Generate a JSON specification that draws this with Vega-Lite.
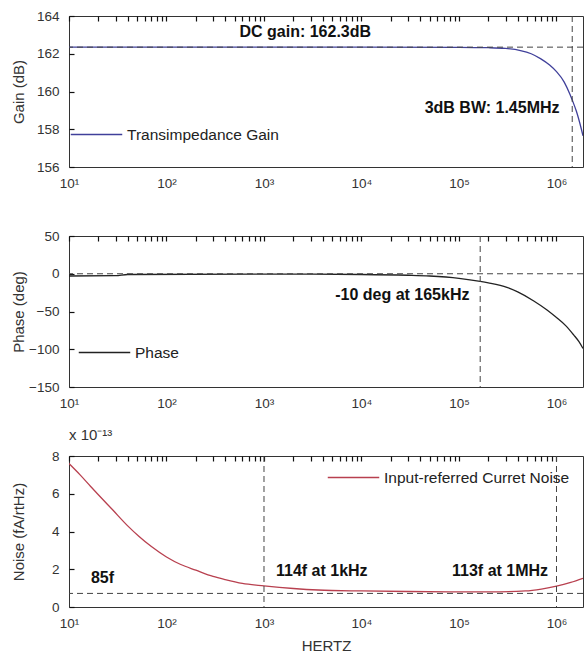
{
  "$schema": "https://vega.github.io/schema/vega-lite/v6.json",
  "padding": {"left": 10, "top": 8, "right": 3, "bottom": 3},
  "bounds": "flush",
  "spacing": 69,
  "resolve": {"scale": {"color": "independent", "x": "independent", "y": "independent"}, "legend": {"color": "independent"}},
  "config": {
    "font": "Liberation Sans",
    "view": {"stroke": "#333", "strokeWidth": 1},
    "axis": {"grid": true, "gridDash": [5, 1000], "gridColor": "#111", "gridWidth": 1.2, "gridOpacity": 1, "domain": false, "ticks": false, "tickSize": 0, "labelFont": "Liberation Sans", "labelFontSize": 13.5, "labelColor": "#333", "titleFont": "Liberation Sans", "titleFontSize": 15, "titleFontWeight": "normal", "titleColor": "#333", "labelFlush": false, "labelOverlap": false, "zindex": 2},
    "legend": {"orient": "none", "title": null, "symbolType": "stroke", "symbolSize": 2650, "symbolStrokeWidth": 1.3, "labelFont": "Liberation Sans", "labelFontSize": 15.5, "labelColor": "#222", "padding": 0, "labelOffset": 4, "labelLimit": 0},
    "text": {"font": "Liberation Sans", "fontWeight": "bold", "fontSize": 16, "color": "#111"},
    "rule": {"strokeDash": [6, 4], "color": "#444", "strokeWidth": 1}
  },
  "vconcat": [
    {
      "width": 514, "height": 151,
      "layer": [
        {
          "data": {"values": [
            {"f": 10, "g": 162.35}, {"f": 100, "g": 162.35}, {"f": 1000, "g": 162.35}, {"f": 10000, "g": 162.35},
            {"f": 100000, "g": 162.34}, {"f": 200000, "g": 162.32}, {"f": 300000, "g": 162.28}, {"f": 427000, "g": 162.17},
            {"f": 550000, "g": 162.0}, {"f": 685000, "g": 161.74}, {"f": 850000, "g": 161.4}, {"f": 1000000, "g": 161.05},
            {"f": 1200000, "g": 160.5}, {"f": 1380000, "g": 159.83}, {"f": 1450000, "g": 159.55}, {"f": 1600000, "g": 158.95},
            {"f": 1800000, "g": 158.0}, {"f": 1870000, "g": 157.65}
          ]},
          "mark": {"type": "line", "clip": true, "strokeWidth": 1.3, "interpolate": "monotone"},
          "encoding": {
            "x": {"field": "f", "type": "quantitative", "scale": {"type": "log", "domain": [10, 1870000], "nice": false},
              "axis": {"orient": "bottom", "title": null, "labelPadding": 9,
                "values": [10,20,30,40,50,60,70,80,90,100,200,300,400,500,600,700,800,900,1000,2000,3000,4000,5000,6000,7000,8000,9000,10000,20000,30000,40000,50000,60000,70000,80000,90000,100000,200000,300000,400000,500000,600000,700000,800000,900000,1000000],
                "labelExpr": "datum.value==10?'10¹':datum.value==100?'10²':datum.value==1000?'10³':datum.value==10000?'10⁴':datum.value==100000?'10⁵':datum.value==1000000?'10⁶':''"}},
            "y": {"field": "g", "type": "quantitative", "scale": {"domain": [156, 164], "nice": false},
              "axis": {"orient": "left", "title": "Gain (dB)", "values": [156, 158, 160, 162, 164], "labelPadding": 10, "titleX": -43}},
            "color": {"datum": "Transimpedance Gain", "type": "nominal", "scale": {"range": ["#40409a"]},
              "legend": {"legendX": 1, "legendY": 92}}
          }
        },
        {
          "data": {"values": [{"f": 1450000}]},
          "mark": {"type": "rule"},
          "encoding": {
            "x": {"field": "f", "type": "quantitative",
              "axis": {"orient": "top", "title": null, "labels": false,
                "values": [10,20,30,40,50,60,70,80,90,100,200,300,400,500,600,700,800,900,1000,2000,3000,4000,5000,6000,7000,8000,9000,10000,20000,30000,40000,50000,60000,70000,80000,90000,100000,200000,300000,400000,500000,600000,700000,800000,900000,1000000]}}
          }
        },
        {
          "data": {"values": [{"g": 162.35}]},
          "mark": {"type": "rule"},
          "encoding": {
            "y": {"field": "g", "type": "quantitative",
              "axis": {"orient": "right", "title": null, "labels": false, "values": [156, 158, 160, 162, 164]}}
          }
        },
        {
          "data": {"values": [
            {"f": 2650, "g": 163.15, "label": "DC gain: 162.3dB"}
          ]},
          "mark": {"type": "text", "align": "center", "baseline": "middle"},
          "encoding": {
            "x": {"field": "f", "type": "quantitative", "axis": null},
            "y": {"field": "g", "type": "quantitative", "axis": null},
            "text": {"field": "label"}
          }
        },
        {
          "data": {"values": [
            {"f": 1074000, "g": 159.1, "label": "3dB BW: 1.45MHz"}
          ]},
          "mark": {"type": "text", "align": "right", "baseline": "middle"},
          "encoding": {
            "x": {"field": "f", "type": "quantitative", "axis": null},
            "y": {"field": "g", "type": "quantitative", "axis": null},
            "text": {"field": "label"}
          }
        }
      ],
      "resolve": {"axis": {"x": "independent", "y": "independent"}}
    },
    {
      "width": 514, "height": 151,
      "layer": [
        {
          "data": {"values": [
            {"f": 10, "p": -3}, {"f": 30, "p": -2.5}, {"f": 40, "p": -1}, {"f": 1000, "p": -0.5}, {"f": 10000, "p": -1},
            {"f": 30000, "p": -2}, {"f": 50000, "p": -3}, {"f": 100000, "p": -6}, {"f": 165000, "p": -10}, {"f": 200000, "p": -12},
            {"f": 310000, "p": -18}, {"f": 400000, "p": -24}, {"f": 585000, "p": -36}, {"f": 800000, "p": -48}, {"f": 1000000, "p": -58},
            {"f": 1250000, "p": -69}, {"f": 1500000, "p": -81}, {"f": 1700000, "p": -90}, {"f": 1870000, "p": -99}
          ]},
          "mark": {"type": "line", "clip": true, "strokeWidth": 1.3, "interpolate": "monotone"},
          "encoding": {
            "x": {"field": "f", "type": "quantitative", "scale": {"type": "log", "domain": [10, 1870000], "nice": false},
              "axis": {"orient": "bottom", "title": null, "labelPadding": 9,
                "values": [10,20,30,40,50,60,70,80,90,100,200,300,400,500,600,700,800,900,1000,2000,3000,4000,5000,6000,7000,8000,9000,10000,20000,30000,40000,50000,60000,70000,80000,90000,100000,200000,300000,400000,500000,600000,700000,800000,900000,1000000],
                "labelExpr": "datum.value==10?'10¹':datum.value==100?'10²':datum.value==1000?'10³':datum.value==10000?'10⁴':datum.value==100000?'10⁵':datum.value==1000000?'10⁶':''"}},
            "y": {"field": "p", "type": "quantitative", "scale": {"domain": [-150, 50], "nice": false},
              "axis": {"orient": "left", "title": "Phase (deg)", "values": [-150, -100, -50, 0, 50], "labelPadding": 10, "titleX": -43}},
            "color": {"datum": "Phase", "type": "nominal", "scale": {"range": ["#222222"]},
              "legend": {"legendX": 9, "legendY": 90}}
          }
        },
        {
          "data": {"values": [{"f": 165000}]},
          "mark": {"type": "rule"},
          "encoding": {
            "x": {"field": "f", "type": "quantitative",
              "axis": {"orient": "top", "title": null, "labels": false,
                "values": [10,20,30,40,50,60,70,80,90,100,200,300,400,500,600,700,800,900,1000,2000,3000,4000,5000,6000,7000,8000,9000,10000,20000,30000,40000,50000,60000,70000,80000,90000,100000,200000,300000,400000,500000,600000,700000,800000,900000,1000000]}}
          }
        },
        {
          "data": {"values": [{"p": 0}]},
          "mark": {"type": "rule"},
          "encoding": {
            "y": {"field": "p", "type": "quantitative",
              "axis": {"orient": "right", "title": null, "labels": false, "values": [-150, -100, -50, 0, 50]}}
          }
        },
        {
          "data": {"values": [{"f": 128000, "p": -28, "label": "-10 deg at 165kHz"}]},
          "mark": {"type": "text", "align": "right", "baseline": "middle"},
          "encoding": {
            "x": {"field": "f", "type": "quantitative", "axis": null},
            "y": {"field": "p", "type": "quantitative", "axis": null},
            "text": {"field": "label"}
          }
        }
      ],
      "resolve": {"axis": {"x": "independent", "y": "independent"}}
    },
    {
      "width": 514, "height": 151,
      "title": {"text": "x 10⁻¹³", "anchor": "start", "frame": "group", "fontSize": 15, "fontWeight": "normal", "color": "#333", "font": "Liberation Sans", "offset": 6},
      "layer": [
        {
          "data": {"values": [
            {"f": 10, "n": 7.6}, {"f": 13, "n": 7.0}, {"f": 16.6, "n": 6.4}, {"f": 20, "n": 5.95}, {"f": 28, "n": 5.15},
            {"f": 40, "n": 4.3}, {"f": 52, "n": 3.75}, {"f": 70, "n": 3.2}, {"f": 100, "n": 2.65}, {"f": 140, "n": 2.25},
            {"f": 200, "n": 1.95}, {"f": 300, "n": 1.62}, {"f": 400, "n": 1.45}, {"f": 600, "n": 1.25}, {"f": 1000, "n": 1.12},
            {"f": 2000, "n": 0.98}, {"f": 3600, "n": 0.9}, {"f": 10000, "n": 0.85}, {"f": 30000, "n": 0.82}, {"f": 100000, "n": 0.8},
            {"f": 200000, "n": 0.8}, {"f": 480000, "n": 0.85}, {"f": 700000, "n": 0.95}, {"f": 1000000, "n": 1.1}, {"f": 1400000, "n": 1.3},
            {"f": 1870000, "n": 1.52}
          ]},
          "mark": {"type": "line", "clip": true, "strokeWidth": 1.3, "interpolate": "monotone"},
          "encoding": {
            "x": {"field": "f", "type": "quantitative", "scale": {"type": "log", "domain": [10, 1870000], "nice": false},
              "axis": {"orient": "bottom", "title": "HERTZ", "labelPadding": 9, "titlePadding": 9,
                "values": [10,20,30,40,50,60,70,80,90,100,200,300,400,500,600,700,800,900,1000,2000,3000,4000,5000,6000,7000,8000,9000,10000,20000,30000,40000,50000,60000,70000,80000,90000,100000,200000,300000,400000,500000,600000,700000,800000,900000,1000000],
                "labelExpr": "datum.value==10?'10¹':datum.value==100?'10²':datum.value==1000?'10³':datum.value==10000?'10⁴':datum.value==100000?'10⁵':datum.value==1000000?'10⁶':''"}},
            "y": {"field": "n", "type": "quantitative", "scale": {"domain": [0, 8], "nice": false},
              "axis": {"orient": "left", "title": "Noise (fA/rtHz)", "values": [0, 2, 4, 6, 8], "labelPadding": 10, "titleX": -43}},
            "color": {"datum": "Input-referred Curret Noise", "type": "nominal", "scale": {"range": ["#b8404f"]},
              "legend": {"legendX": 258, "legendY": -5}}
          }
        },
        {
          "data": {"values": [{"f": 1000}, {"f": 1000000}]},
          "mark": {"type": "rule"},
          "encoding": {
            "x": {"field": "f", "type": "quantitative",
              "axis": {"orient": "top", "title": null, "labels": false,
                "values": [10,20,30,40,50,60,70,80,90,100,200,300,400,500,600,700,800,900,1000,2000,3000,4000,5000,6000,7000,8000,9000,10000,20000,30000,40000,50000,60000,70000,80000,90000,100000,200000,300000,400000,500000,600000,700000,800000,900000,1000000]}}
          }
        },
        {
          "data": {"values": [{"n": 0.72}]},
          "mark": {"type": "rule"},
          "encoding": {
            "y": {"field": "n", "type": "quantitative",
              "axis": {"orient": "right", "title": null, "labels": false, "values": [0, 2, 4, 6, 8]}}
          }
        },
        {
          "data": {"values": [
            {"f": 16.8, "n": 1.55, "label": "85f"},
            {"f": 1327, "n": 1.9, "label": "114f at 1kHz"}
          ]},
          "mark": {"type": "text", "align": "left", "baseline": "middle"},
          "encoding": {
            "x": {"field": "f", "type": "quantitative", "axis": null},
            "y": {"field": "n", "type": "quantitative", "axis": null},
            "text": {"field": "label"}
          }
        },
        {
          "data": {"values": [
            {"f": 820000, "n": 1.9, "label": "113f at 1MHz"}
          ]},
          "mark": {"type": "text", "align": "right", "baseline": "middle"},
          "encoding": {
            "x": {"field": "f", "type": "quantitative", "axis": null},
            "y": {"field": "n", "type": "quantitative", "axis": null},
            "text": {"field": "label"}
          }
        }
      ],
      "resolve": {"axis": {"x": "independent", "y": "independent"}}
    }
  ]
}
